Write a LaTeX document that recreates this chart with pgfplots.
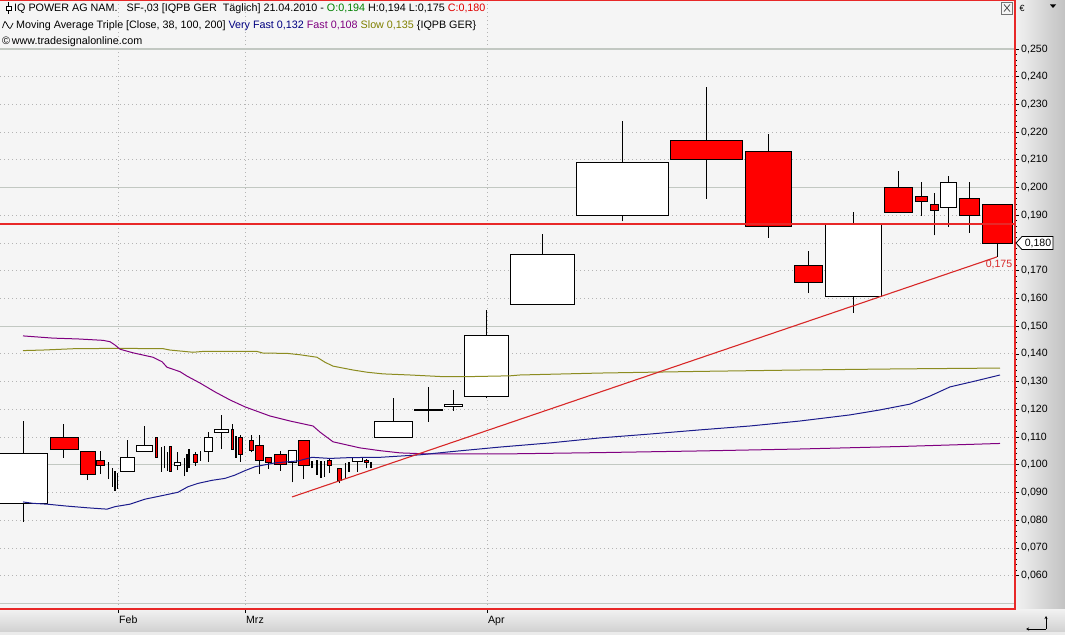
\documentclass[border=0pt]{standalone}
\usepackage{fontspec}
\setmainfont{Liberation Sans}
\usepackage{pgfplots}
\pgfplotsset{compat=1.18}
\usetikzlibrary{arrows.meta}

\definecolor{bg}{HTML}{F5F5F5}
\definecolor{gridd}{HTML}{B4B4B4}
\definecolor{grids}{HTML}{C2C8C2}
\definecolor{framec}{HTML}{E82828}
\definecolor{suppc}{HTML}{E82828}
\definecolor{cred}{HTML}{FF0000}
\definecolor{mavf}{HTML}{1C1C8C}
\definecolor{maf}{HTML}{800080}
\definecolor{mas}{HTML}{8C8C20}
\definecolor{trend}{HTML}{D82828}
\definecolor{tgreen}{HTML}{008000}
\definecolor{tred}{HTML}{E00000}
\definecolor{tnavy}{HTML}{000080}
\definecolor{tpurple}{HTML}{800080}
\definecolor{tolive}{HTML}{808000}

\newcommand\fs{\fontsize{10.8}{12}\selectfont}
\newcommand\ft{\fontsize{10.6}{12}\selectfont}

% candle macros: xl, xm, xr, open, high, low, close
\newcommand\cu[7]{%
  \addplot[black, line width=1bp] coordinates {(#2,#6) (#2,#5)};
  \addplot[draw=black, fill=white, line width=1bp] coordinates {(#1,#4) (#3,#4) (#3,#7) (#1,#7)} -- cycle;
}
\newcommand\cd[7]{%
  \addplot[black, line width=1bp] coordinates {(#2,#6) (#2,#5)};
  \addplot[draw=black, fill=cred, line width=1bp] coordinates {(#1,#4) (#3,#4) (#3,#7) (#1,#7)} -- cycle;
}
\newcommand\cl[3]{%
  \addplot[black, line width=1.4bp] coordinates {(#1,#3) (#1,#2)};
}

\begin{document}
\begin{tikzpicture}
\useasboundingbox (0,-26bp) rectangle (1065bp,609bp);
\shade[top color=black!5, bottom color=black!20] (0,-26bp) rectangle (1065bp,0);
\fill[black!8] (0,-26bp) rectangle (1065bp,-23bp);
\shade[left color=black!5, right color=black!24] (1015bp,0) rectangle (1065bp,609bp);

\begin{axis}[
  at={(0,0)}, anchor=south west,
  scale only axis, width=1015bp, height=608bp,
  xmin=0, xmax=1015, ymin=0.04798, ymax=0.26732,
  axis background/.style={fill=bg},
  axis line style={draw=none},
  xtick={118,245,487}, xticklabels={Feb,Mrz,Apr},
  xtick pos=left,
  ytick pos=right, yticklabel pos=right,
  tick align=outside,
  major tick length=4bp, minor tick length=2bp,
  ytick={0.06,0.07,0.08,0.09,0.10,0.11,0.12,0.13,0.14,0.15,0.16,0.17,0.18,0.19,0.20,0.21,0.22,0.23,0.24,0.25},
  yticklabels={{0,060},{0,070},{0,080},{0,090},{0,100},{0,110},{0,120},{0,130},{0,140},{0,150},{0,160},{0,170},{},{0,190},{0,200},{0,210},{0,220},{0,230},{0,240},{0,250}},
  minor y tick num=4,
  ymajorgrids, xmajorgrids,
  major grid style={gridd, dash pattern=on 1bp off 3bp, line width=0.9bp},
  extra y ticks={0.05,0.10,0.15,0.20,0.25},
  extra y tick labels={},
  extra y tick style={grid=major, major grid style={grids, solid, line width=1.1bp}, major tick length=0pt},
  scaled y ticks=false,
  ticklabel style={font=\ft},
  tick style={black, line width=0.8bp},
  xticklabel style={anchor=north west, inner sep=1bp, yshift=-2bp},
  yticklabel style={anchor=west, inner sep=2bp},
]
% white (rising) candles
\cu{-1}{23}{47}{0.0859}{0.1158}{0.0794}{0.1039}
\cu{120}{127.3}{134.3}{0.0977}{0.1089}{0.0977}{0.1028}
\cu{136.7}{144.5}{152.3}{0.1049}{0.1140}{0.1049}{0.1068}
\cu{174.3}{177.3}{180.3}{0.0997}{0.1047}{0.0981}{0.1009}
\cu{204.3}{208.5}{212.7}{0.1049}{0.1119}{0.1011}{0.1100}
\cu{214.3}{221.3}{228.3}{0.1117}{0.1180}{0.1057}{0.1129}
\cu{288.3}{292.5}{296.7}{0.1008}{0.1050}{0.0937}{0.1050}
\cu{352.3}{357.3}{362.3}{0.1011}{0.1027}{0.0975}{0.1027}
\cu{374.3}{393.3}{412.3}{0.1099}{0.1242}{0.1099}{0.1157}
\cu{414.3}{428.5}{442.7}{0.1197}{0.1282}{0.1155}{0.1198}
\cu{444}{453.2}{462.3}{0.1209}{0.1270}{0.1195}{0.1219}
\cu{464.3}{486.3}{508.3}{0.1247}{0.1558}{0.1240}{0.1467}
\cu{510}{542.2}{574.3}{0.1580}{0.1833}{0.1580}{0.1760}
\cu{576}{622.3}{668.7}{0.1900}{0.2240}{0.1878}{0.2091}
\cu{825.3}{853.3}{881.3}{0.1608}{0.1912}{0.1549}{0.1870}
\cu{940.7}{948.5}{956.3}{0.1929}{0.2042}{0.1859}{0.2020}
% red (falling) candles
\cd{50}{63}{78}{0.1100}{0.1147}{0.1025}{0.1055}
\cd{80}{87}{95}{0.1049}{0.1049}{0.0945}{0.0966}
\cd{96.3}{100.5}{104.7}{0.1016}{0.1049}{0.0966}{0.0998}
\cd{155}{156.3}{157.7}{0.1100}{0.1100}{0.1027}{0.1027}
\cd{169.3}{170.5}{171.7}{0.1067}{0.1067}{0.0975}{0.0975}
\cd{193.3}{195.3}{197.3}{0.1038}{0.1045}{0.0997}{0.1009}
\cd{231}{232.3}{233.7}{0.1129}{0.1146}{0.1056}{0.1056}
\cd{238.3}{240.3}{242.3}{0.1099}{0.1108}{0.1011}{0.1038}
\cd{249}{251.2}{253.3}{0.1089}{0.1108}{0.1045}{0.1050}
\cd{255.3}{259.5}{263.7}{0.1068}{0.1108}{0.0966}{0.1015}
\cd{265}{268.3}{271.7}{0.1027}{0.1027}{0.0985}{0.1008}
\cd{274.3}{280.2}{286}{0.1038}{0.1050}{0.0978}{0.1002}
\cd{298.3}{303.7}{309}{0.1089}{0.1089}{0.0948}{0.0999}
\cd{327.5}{329.5}{331.5}{0.1017}{0.1021}{0.0970}{0.0999}
\cd{337.3}{339.5}{341.7}{0.0987}{0.0987}{0.0933}{0.0945}
\cd{364.3}{366.3}{368.3}{0.1017}{0.1020}{0.0987}{0.1010}
\cd{670.7}{706.7}{742.3}{0.2171}{0.2364}{0.1960}{0.2102}
\cd{745.3}{768.7}{791.3}{0.2131}{0.2193}{0.1819}{0.1860}
\cd{794.3}{808.3}{822.3}{0.1720}{0.1771}{0.1619}{0.1658}
\cd{884.3}{898.5}{912.3}{0.2001}{0.2061}{0.1911}{0.1911}
\cd{915.3}{921.3}{927.3}{0.1969}{0.2020}{0.1899}{0.1951}
\cd{930.3}{934.3}{938.3}{0.1940}{0.1979}{0.1828}{0.1918}
\cd{959.7}{969.5}{979.3}{0.1961}{0.2020}{0.1837}{0.1900}
\cd{982.7}{997.5}{1012.3}{0.194}{0.194}{0.175}{0.180}
% very thin candles (lines)
\cl{108.3}{0.1009}{0.0948}
\cl{112.3}{0.0988}{0.0920}
\cl{115}{0.0978}{0.0906}
\cl{117.3}{0.0970}{0.0913}
\cl{161.7}{0.1065}{0.0975}
\cl{164.3}{0.1068}{0.0987}
\cl{167.3}{0.1047}{0.0978}
\cl{184.3}{0.1026}{0.0959}
\cl{187}{0.1039}{0.0975}
\cl{189}{0.1056}{0.0987}
\cl{200.7}{0.1051}{0.1015}
\cl{236}{0.1104}{0.1025}
\cl{312}{0.1014}{0.0987}
\cl{317}{0.1017}{0.0965}
\cl{321}{0.1014}{0.0952}
\cl{324.5}{0.1014}{0.0956}
\cl{345.5}{0.1007}{0.0949}
\cl{349}{0.1011}{0.0975}
\cl{371}{0.1009}{0.0990}

% Slow MA
\addplot[mas, line width=1bp] coordinates {
(23,0.1412) (43,0.1414) (75,0.1419) (118,0.1420) (163,0.1419) (170,0.1414)
(193,0.1406) (203,0.1409) (257,0.1409) (263,0.1403) (287,0.1402) (300,0.1397)
(317,0.1388) (325,0.1370) (333,0.1356) (353,0.1342) (367,0.1334) (383,0.1328)
(410,0.1324) (443,0.1318) (467,0.1318) (510,0.1321) (520,0.1324) (600,0.1331)
(700,0.1337) (800,0.1342) (900,0.1346) (1000,0.1349)};
% Fast MA
\addplot[maf, line width=1bp] coordinates {
(23,0.1465) (53,0.1457) (78,0.1454) (103,0.1449) (110,0.1444) (115,0.1432)
(120,0.1417) (133,0.1404) (153,0.1388) (162,0.1372) (167,0.1352) (180,0.1336)
(187,0.1320) (200,0.1295) (215,0.1263) (230,0.1234) (245,0.1209) (270,0.1176)
(290,0.1158) (313,0.1140) (320,0.1118) (333,0.1083) (360,0.1061) (380,0.1051)
(400,0.1043) (430,0.1039) (500,0.1039) (600,0.1044) (700,0.1050) (800,0.1057)
(900,0.1066) (1000,0.1077)};
% Very fast MA
\addplot[mavf, line width=1bp] coordinates {
(23,0.0866) (33,0.0861) (47,0.0858) (67,0.0851) (87,0.0845) (107,0.0840)
(115,0.0849) (130,0.0858) (145,0.0876) (165,0.0891) (178,0.0901) (188,0.0921)
(198,0.0933) (212,0.0944) (225,0.0951) (235,0.0963) (245,0.0979) (255,0.0993)
(275,0.1007) (298,0.1014) (312,0.1027) (330,0.1023) (350,0.1026) (380,0.1027)
(420,0.1036) (450,0.1047) (500,0.1064) (550,0.1079) (600,0.1097) (650,0.1111)
(700,0.1126) (750,0.1140) (800,0.1158) (850,0.1180) (880,0.1198) (910,0.1219)
(930,0.1248) (950,0.1281) (975,0.1302) (1000,0.1324)};
% support line and trend line
\addplot[draw=suppc, line width=1.25bp] coordinates {(0,0.1869) (1015,0.1869)};
\addplot[draw=trend, line width=1.1bp] coordinates {(292,0.0884) (997,0.1750)};
\node[text=trend, font=\ft] at (axis cs:999,0.1724) {0,175};
\coordinate (tag) at (axis cs:1016,0.180);
\end{axis}

% frame
\draw[draw=framec, line width=1.25bp] (0,0) -- (1015bp,0) -- (1015bp,608.5bp) -- (0,608.5bp);

% price tag on the right axis
\draw[fill=white, line width=0.8bp] (tag) -- ++(6bp,6.5bp) -- ++(31bp,0) -- ++(0,-13bp) -- ++(-31bp,0) -- cycle;
\node[font=\ft, anchor=center] at ([xshift=22bp]tag) {0,180};

% header
\draw[black, line width=0.8bp] (8.5bp,606.5bp) -- (8.5bp,595bp);
\draw[black, fill=white, line width=0.8bp] (6bp,603bp) rectangle (11bp,598.5bp);
\node[anchor=base west, inner sep=0, font=\fs] at (14bp,597bp)
 {IQ POWER AG NAM.\ \ \ SF-,03 [IQPB GER\ \ Täglich] 21.04.2010 - \textcolor{tgreen}{O:0,194} H:0,194 L:0,175 \textcolor{tred}{C:0,180}};
\draw[black, line width=0.7bp] plot[smooth] coordinates {(2.5bp,581bp) (5bp,587.5bp) (7.5bp,583.5bp) (10bp,580.5bp) (13bp,586bp)};
\node[anchor=base west, inner sep=0, font=\fs] at (16bp,580.3bp)
 {Moving Average Triple [Close, 38, 100, 200] \textcolor{tnavy}{Very Fast 0,132} \textcolor{tpurple}{Fast 0,108} \textcolor{tolive}{Slow 0,135} \{IQPB GER\}};
\node[anchor=base west, inner sep=0, font=\fs] at (2bp,564bp) {©\,www.tradesignalonline.com};

% window widgets
\draw[black!55, fill=black!4, line width=0.7bp] (1001.5bp,607bp) rectangle (1012.5bp,595bp);
\draw[black!70, line width=0.8bp] (1004bp,604.5bp) -- (1010bp,597.5bp) (1004bp,597.5bp) -- (1010bp,604.5bp);
\node[font=\fontsize{9}{10}\selectfont, anchor=center] at (1022bp,601bp) {€};
\fill[black] (1050bp,604.5bp) -- (1056bp,604.5bp) -- (1053bp,601bp) -- cycle;
\draw[black, line width=0.7bp, -{Stealth[length=3bp,width=3bp]}] (1046bp,-20bp) -- (1046bp,-7bp);
\draw[black, line width=0.7bp, -{Stealth[length=3bp,width=3bp]}] (1046bp,-20bp) -- (1026bp,-20bp);
\end{tikzpicture}
\end{document}
